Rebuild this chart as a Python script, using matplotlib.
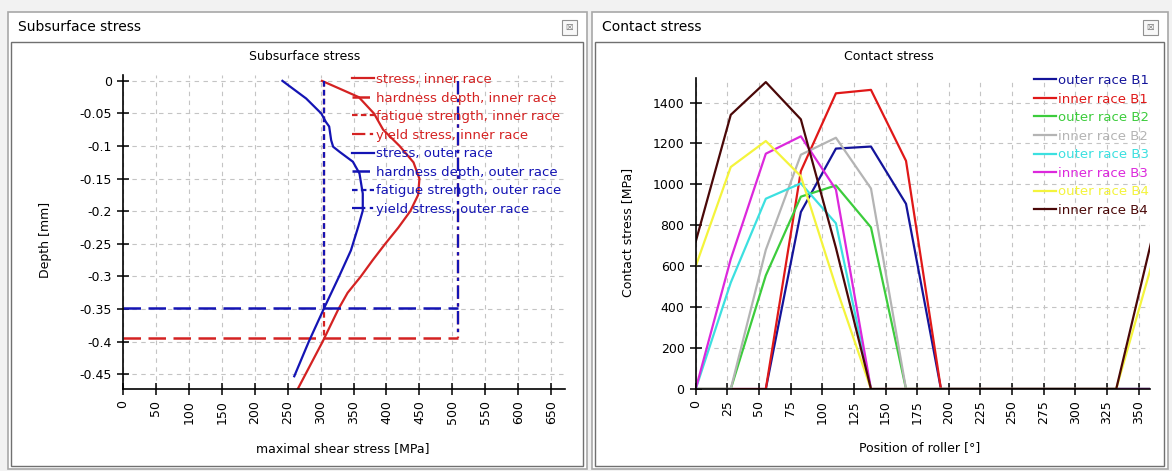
import matplotlib
matplotlib.use("Agg")
import matplotlib.pyplot as plt
from matplotlib.patches import Rectangle
from matplotlib.ticker import FuncFormatter

plt.rcParams['font.family'] = ['DejaVu Sans']
plt.rcParams['axes.unicode_minus'] = False

W, H = 1172, 471

# ---- subsurface stress data (left) ----
depthInner = [0, -0.012, -0.025, -0.05, -0.075, -0.1, -0.125, -0.15, -0.175, -0.2,
              -0.225, -0.25, -0.275, -0.3, -0.325, -0.35, -0.375, -0.4, -0.425, -0.45, -0.475]
stressInner = [302, 329, 358, 381, 395, 420, 441, 450, 448, 436,
               418, 398, 379, 361, 341, 327, 315, 303, 290, 277, 264]
depthOuter = [0, -0.027, -0.05, -0.063, -0.07, -0.091, -0.101, -0.109, -0.124, -0.142,
              -0.173, -0.199, -0.224, -0.26, -0.3, -0.347, -0.4, -0.453]
stressOuter = [242, 278, 301, 308, 313, 316, 319, 329, 349, 359,
               364, 364, 357, 346, 328, 306, 282, 260]
hardnessInner = -0.395
hardnessOuter = -0.348
fatigueInner = 305
fatigueOuter = 305
yieldInner = 509
yieldOuter = 509

# ---- contact stress data (right) ----
positions = [0, 27.7, 55.4, 83.1, 110.8, 138.5, 166.2, 193.8, 221.5, 249.2, 276.9, 304.6, 332.3, 360]
outerB1 = [0, 0, 0, 865, 1175, 1185, 905, 0, 0, 0, 0, 0, 0, 0]
innerB1 = [0, 0, 0, 1065, 1445, 1462, 1115, 0, 0, 0, 0, 0, 0, 0]
outerB2 = [0, 0, 555, 940, 995, 790, 0, 0, 0, 0, 0, 0, 0, 0]
innerB2 = [0, 0, 680, 1145, 1228, 980, 0, 0, 0, 0, 0, 0, 0, 0]
outerB3 = [0, 520, 930, 1005, 810, 0, 0, 0, 0, 0, 0, 0, 0, 0]
innerB3 = [0, 635, 1150, 1235, 975, 0, 0, 0, 0, 0, 0, 0, 0, 0]
outerB4 = [600, 1085, 1212, 1040, 500, 0, 0, 0, 0, 0, 0, 0, 0, 600]
innerB4 = [720, 1340, 1500, 1318, 690, 0, 0, 0, 0, 0, 0, 0, 0, 720]
contactNames = ["outer race B1", "inner race B1", "outer race B2", "inner race B2",
                "outer race B3", "inner race B3", "outer race B4", "inner race B4"]
contactColors = ["#14149a", "#e01818", "#3ccc3c", "#b4b4b4",
                 "#3ce0e0", "#dc28dc", "#f4f43c", "#4a0808"]

RED = "#d42222"
BLUE = "#1414b4"


def fx(px):
    return px / W


def fy(py):
    return 1 - py / H


fig = plt.figure(figsize=(W / 100, H / 100), dpi=100)
fig.patch.set_facecolor("#f2f2f2")


def panel(x0, x1, title):
    fig.patches.append(Rectangle((fx(x0), fy(469)), fx(x1) - fx(x0), fy(12) - fy(469),
                                 transform=fig.transFigure, facecolor="white",
                                 edgecolor="#a8a8a8", lw=1.2, zorder=-3))
    fig.patches.append(Rectangle((fx(x0 + 3), fy(466)), fx(x1 - 4) - fx(x0 + 3), fy(42) - fy(466),
                                 transform=fig.transFigure, facecolor="white",
                                 edgecolor="#707070", lw=1.0, zorder=-2))
    fig.text(fx(x0 + 10), fy(27), title, fontsize=10, va="center", ha="left")
    fig.patches.append(Rectangle((fx(x1 - 25), fy(35)), fx(15), fy(20) - fy(35),
                                 transform=fig.transFigure, facecolor="#f8f8f8",
                                 edgecolor="#909090", lw=0.8, zorder=1))
    fig.text(fx(x1 - 17.5), fy(27.5), "\u2612", fontsize=6, ha="center", va="center", color="#606060")


panel(8, 587, "Subsurface stress")
panel(592, 1168, "Contact stress")


def style_axes(ax):
    ax.patch.set_alpha(0)
    for s in ["top", "right"]:
        ax.spines[s].set_visible(False)
    for s in ["left", "bottom"]:
        ax.spines[s].set_linewidth(1.2)
    ax.tick_params(direction="inout", length=9, width=1.1, labelsize=9)
    ax.tick_params(axis="x", labelrotation=90)
    ax.grid(True, color="#c4c4c4", linestyle=(0, (4, 4)), linewidth=0.8)
    ax.set_axisbelow(True)


# ---- left chart ----
ax1 = fig.add_axes([fx(123), fy(389.3), fx(565) - fx(123), fy(75) - fy(389.3)])
style_axes(ax1)
ax1.plot(stressInner, depthInner, color=RED, lw=1.6, label="stress, inner race")
ax1.plot([0, yieldInner], [hardnessInner, hardnessInner], color=RED, lw=1.8,
         linestyle=(0, (7, 3)), label="hardness depth, inner race")
ax1.plot([fatigueInner, fatigueInner], [0, hardnessInner], color=RED, lw=1.6,
         linestyle=(0, (2.5, 1.5)), label="fatigue strength, inner race")
ax1.plot([yieldInner, yieldInner], [0, hardnessInner], color=RED, lw=1.6,
         linestyle=(0, (6, 2, 1.5, 2)), label="yield stress, inner race")
ax1.plot(stressOuter, depthOuter, color=BLUE, lw=1.6, label="stress, outer race")
ax1.plot([0, yieldOuter], [hardnessOuter, hardnessOuter], color=BLUE, lw=1.8,
         linestyle=(0, (7, 3)), label="hardness depth, outer race")
ax1.plot([fatigueOuter, fatigueOuter], [0, hardnessOuter], color=BLUE, lw=1.6,
         linestyle=(0, (2.5, 1.5)), label="fatigue strength, outer race")
ax1.plot([yieldOuter, yieldOuter], [0, hardnessInner + 0.004], color=BLUE, lw=1.6,
         linestyle=(0, (6, 2, 1.5, 2)), label="yield stress, outer race")
ax1.set_xlim(0, 671)
ax1.set_ylim(-0.473, 0.009)
ax1.yaxis.set_major_formatter(FuncFormatter(lambda v, p: "%g" % round(v, 3)))
ax1.set_xticks(range(0, 651, 50))
ax1.set_yticks([0, -0.05, -0.1, -0.15, -0.2, -0.25, -0.3, -0.35, -0.4, -0.45])
leg1 = ax1.legend(loc="upper left", bbox_to_anchor=(fx(352), fy(73)),
                  bbox_transform=fig.transFigure, frameon=False, fontsize=9.5,
                  handlelength=1.7, handletextpad=0.1, labelspacing=0.42,
                  borderpad=0, borderaxespad=0)
for t, l in zip(leg1.get_texts(), leg1.get_lines()):
    t.set_color(l.get_color())

fig.text(fx(305), fy(57), "Subsurface stress", fontsize=9, ha="center", va="center")
fig.text(fx(343), fy(449), "maximal shear stress [MPa]", fontsize=9, ha="center", va="center")
fig.text(fx(45), fy(240), "Depth [mm]", fontsize=9, ha="center", va="center", rotation=90)

# ---- right chart ----
ax2 = fig.add_axes([fx(695.7), fy(389), fx(1150) - fx(695.7), fy(78) - fy(389)])
style_axes(ax2)
series = [outerB1, innerB1, outerB2, innerB2, outerB3, innerB3, outerB4, innerB4]
for vals, name, col in zip(series, contactNames, contactColors):
    ax2.plot(positions, vals, color=col, lw=1.6, label=name)
ax2.set_xlim(0, 359)
ax2.set_ylim(0, 1520)
ax2.set_xticks(range(0, 351, 25))
ax2.set_yticks(range(0, 1401, 200))
leg2 = ax2.legend(loc="upper left", bbox_to_anchor=(fx(1034), fy(74)),
                  bbox_transform=fig.transFigure, frameon=False, fontsize=9.5,
                  handlelength=1.7, handletextpad=0.1, labelspacing=0.42,
                  borderpad=0, borderaxespad=0)
for t, l in zip(leg2.get_texts(), leg2.get_lines()):
    t.set_color(l.get_color())

fig.text(fx(889), fy(57), "Contact stress", fontsize=9, ha="center", va="center")
fig.text(fx(920), fy(448), "Position of roller [\u00b0]", fontsize=9, ha="center", va="center")
fig.text(fx(628), fy(232), "Contact stress [MPa]", fontsize=9, ha="center", va="center", rotation=90)

fig.savefig("out.png", dpi=100, facecolor=fig.get_facecolor())
